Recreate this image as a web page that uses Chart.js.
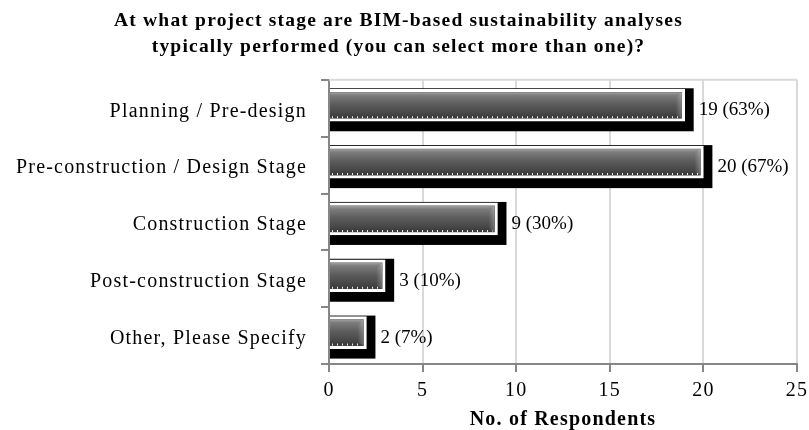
<!DOCTYPE html>
<html>
<head>
<meta charset="utf-8">
<script src="https://cdn.jsdelivr.net/npm/chart.js@4/dist/chart.umd.min.js"></script>
<style>
  html, body { margin: 0; padding: 0; background: #fff; }
  #wrap { width: 809px; height: 430px; }
</style>
</head>
<body>
<div id="wrap"><canvas id="c" width="809" height="430"></canvas></div>
<script>
// Survey question and answer options
const titleLines = [
  'At what project stage are BIM-based sustainability analyses',
  'typically performed (you can select more than one)?'
];
const stages = [
  'Planning / Pre-design',
  'Pre-construction / Design Stage',
  'Construction Stage',
  'Post-construction Stage',
  'Other, Please Specify'
];
// Number of respondents choosing each stage, and the share of all respondents
const respondents = [19, 20, 9, 3, 2];
const shares = ['63%', '67%', '30%', '10%', '7%'];
const xMin = 0, xMax = 25, xStep = 5;
const xTitle = 'No. of Respondents';

const SERIF = "'Liberation Serif', 'Times New Roman', serif";
const AXIS_GREY = '#868686';
const GRID_GREY = '#d9d9d9';
const TEXT_TRACKING = '1.2px';

// Loosely tracked lettering for the title and axis text
const tracking = {
  id: 'tracking',
  beforeUpdate(chart) { chart.ctx.letterSpacing = TEXT_TRACKING; },
  beforeDraw(chart) { chart.ctx.letterSpacing = TEXT_TRACKING; }
};

// Bars are drawn with a solid black drop shadow, a bevelled grey face and a value label
const barDecor = {
  id: 'barDecor',
  beforeDatasetsDraw(chart) {
    const ctx = chart.ctx;
    const area = chart.chartArea;
    // light frame line along the top of the plot
    ctx.save();
    ctx.strokeStyle = GRID_GREY;
    ctx.lineWidth = 2;
    ctx.beginPath();
    ctx.moveTo(area.left, area.top);
    ctx.lineTo(area.right, area.top);
    ctx.stroke();
    ctx.restore();

    ctx.save();
    ctx.translate(0, -3);
    const meta = chart.getDatasetMeta(0);
    ctx.fillStyle = '#000';
    meta.data.forEach(el => {
      const p = el.getProps(['x', 'y', 'base', 'height'], true);
      const top = p.y - p.height / 2 - 1;
      const bottom = p.y + p.height / 2 + 10;
      ctx.fillRect(p.base, top, p.x + 9 - p.base, bottom - top);
    });
  },
  afterDatasetsDraw(chart) {
    const ctx = chart.ctx;
    const meta = chart.getDatasetMeta(0);
    meta.data.forEach(el => {
      const p = el.getProps(['x', 'y', 'base', 'height'], true);
      const b = 3;
      const left = p.base;
      const right = p.x - b;
      const top = p.y - p.height / 2 + b;
      const bottom = p.y + p.height / 2 - b;
      if (right <= left) return;
      const g = ctx.createLinearGradient(0, top, 0, bottom);
      g.addColorStop(0, '#a0a0a0');
      g.addColorStop(0.12, '#7c7c7c');
      g.addColorStop(0.45, '#5d5d5d');
      g.addColorStop(0.8, '#474747');
      g.addColorStop(1, '#383838');
      ctx.fillStyle = g;
      ctx.fillRect(left, top, right - left, bottom - top);
      // bevel at the end of the bar
      const bev = Math.min(6, (right - left) / 2);
      const gb = ctx.createLinearGradient(right - bev, 0, right, 0);
      gb.addColorStop(0, 'rgba(255,255,255,0)');
      gb.addColorStop(1, 'rgba(255,255,255,0.25)');
      ctx.fillStyle = gb;
      ctx.beginPath();
      ctx.moveTo(right - bev, top + bev);
      ctx.lineTo(right, top);
      ctx.lineTo(right, bottom);
      ctx.lineTo(right - bev, bottom - 3);
      ctx.closePath();
      ctx.fill();
      // fine dotted highlight along the lower edge
      ctx.save();
      ctx.strokeStyle = 'rgba(255,255,255,0.9)';
      ctx.lineWidth = 2;
      ctx.setLineDash([1, 4]);
      ctx.beginPath();
      ctx.moveTo(left + 2, bottom - 1);
      ctx.lineTo(right - 2, bottom - 1);
      ctx.stroke();
      ctx.restore();
    });
    ctx.restore();

    // value labels after the shadow
    ctx.save();
    ctx.letterSpacing = '0px';
    ctx.fillStyle = '#000';
    ctx.font = '19px ' + SERIF;
    ctx.textAlign = 'left';
    ctx.textBaseline = 'middle';
    meta.data.forEach((el, i) => {
      const p = el.getProps(['x', 'y'], true);
      ctx.fillText(respondents[i] + ' (' + shares[i] + ')', p.x + 14, p.y + 2);
    });
    ctx.restore();
  }
};

new Chart(document.getElementById('c'), {
  type: 'bar',
  data: {
    labels: stages,
    datasets: [{
      data: respondents,
      backgroundColor: '#555555',
      borderColor: '#ffffff',
      borderWidth: 3,
      borderSkipped: 'start',
      barThickness: 32
    }]
  },
  options: {
    indexAxis: 'y',
    responsive: false,
    animation: false,
    devicePixelRatio: 1,
    layout: { padding: { left: 0, right: 12, top: 0, bottom: 0 } },
    plugins: {
      legend: { display: false },
      tooltip: { enabled: false },
      title: {
        display: true,
        text: titleLines,
        color: '#000',
        font: { family: SERIF, size: 19.5, weight: 'bold', lineHeight: 1.33 },
        padding: { top: 8, bottom: 20 }
      }
    },
    scales: {
      x: {
        min: xMin,
        max: xMax,
        ticks: {
          stepSize: xStep,
          color: '#000',
          font: { family: SERIF, size: 20, lineHeight: 1.0 },
          padding: 9
        },
        grid: {
          color: GRID_GREY,
          lineWidth: 2,
          tickColor: AXIS_GREY,
          tickLength: 8
        },
        border: { color: AXIS_GREY, width: 2 },
        title: {
          display: true,
          text: xTitle,
          color: '#000',
          font: { family: SERIF, size: 20, weight: 'bold', lineHeight: 1.0 },
          padding: { top: 0, bottom: 0 }
        },
        afterFit(scale) { scale.paddingRight = 12; }
      },
      y: {
        ticks: {
          color: '#000',
          font: { family: SERIF, size: 20 },
          padding: 14,
          labelOffset: 3
        },
        grid: {
          offset: true,
          drawOnChartArea: false,
          color: AXIS_GREY,
          lineWidth: 2,
          tickLength: 8
        },
        border: { color: AXIS_GREY, width: 2 },
        afterFit(scale) { scale.width = 329; }
      }
    }
  },
  plugins: [tracking, barDecor]
});
</script>
</body>
</html>
